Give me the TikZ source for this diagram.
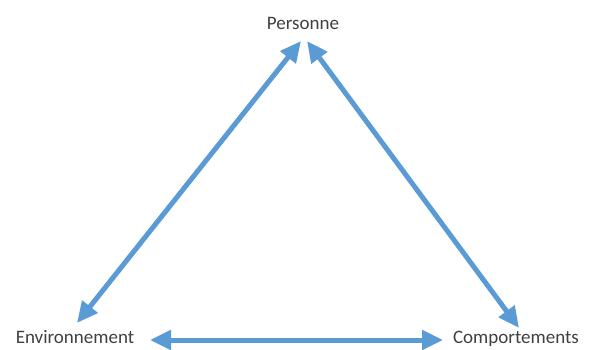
\documentclass[tikz,border=0pt]{standalone}
\usepackage{fontspec}
\setmainfont{Carlito}
\usetikzlibrary{arrows.meta}
\definecolor{relblue}{HTML}{5B9BD5}
\definecolor{labelgray}{HTML}{404040}

\begin{document}
\begin{tikzpicture}[x=1pt,y=-1pt,
  pole/.style={text=labelgray,font=\fontsize{19}{22}\selectfont,anchor=base,inner sep=0pt},
  link/.style={relblue,line width=5pt,{Triangle[length=21pt,width=19pt]}-{Triangle[length=21pt,width=19pt]}}]
  \useasboundingbox (0,0) rectangle (590,349);

  \node[pole] (pers) at (303,29) {Personne};
  \node[pole] (env) at (75,343) {Environnement};
  \node[pole] (comp) at (516,343) {Comportements};

  \coordinate (pers-l) at (301,41);
  \coordinate (pers-r) at (307,41);
  \coordinate (env-t) at (77,323);
  \coordinate (env-r) at (150,340);
  \coordinate (comp-t) at (519,328);
  \coordinate (comp-l) at (443,340);

  \draw[link] (pers-l) -- (env-t);
  \draw[link] (pers-r) -- (comp-t);
  \draw[link] (env-r) -- (comp-l);
\end{tikzpicture}
\end{document}
